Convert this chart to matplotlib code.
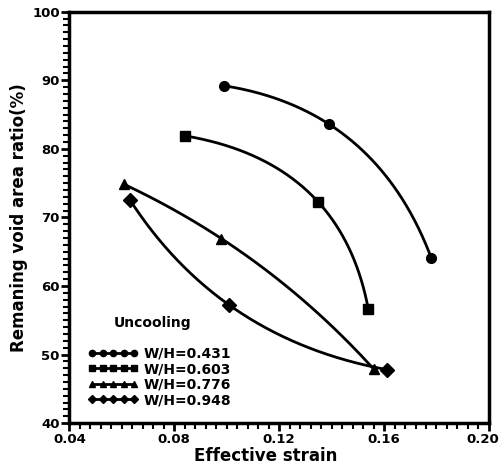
import numpy as np
import matplotlib.pyplot as plt
import matplotlib.transforms as mtransforms
from matplotlib.ticker import MultipleLocator

# Datos
labels = ["W/H=0.431", "W/H=0.603", "W/H=0.776", "W/H=0.948"]
markers = ["o", "s", "^", "D"]
strain = [
    [0.099, 0.139, 0.178],
    [0.084, 0.135, 0.154],
    [0.061, 0.098, 0.156],
    [0.063, 0.101, 0.161],
]
void_ratio = [
    [89.2, 83.6, 64.1],
    [81.9, 72.2, 56.6],
    [74.8, 66.9, 47.9],
    [72.6, 57.2, 47.8],
]
xticks = [0.04, 0.08, 0.12, 0.16, 0.20]
xticklabels = ["0.04", "0.08", "0.12", "0.16", "0.20"]

plt.rcParams["font.family"] = "DejaVu Sans"
plt.rcParams["font.weight"] = "bold"

fig = plt.figure(figsize=(5.03, 4.68), dpi=100)
ax = fig.add_axes([0.138, 0.096, 0.834, 0.879])
ax.set_xlim(0.04, 0.20)
ax.set_ylim(40, 100)


def smooth(x, y, n=200):
    # curva parametrica de segundo grado (parametro = longitud de cuerda)
    xn = (x - 0.04) / 0.16
    yn = (y - 40) / 60
    d = np.hypot(np.diff(xn), np.diff(yn))
    t = np.concatenate([[0], np.cumsum(d)])
    ts = np.linspace(0, t[-1], n)
    cx = np.polyfit(t, x, 2)
    cy = np.polyfit(t, y, 2)
    return np.polyval(cx, ts), np.polyval(cy, ts)


handles = []
for x, y, m, lab in zip(strain, void_ratio, markers, labels):
    x = np.array(x)
    y = np.array(y)
    xs, ys = smooth(x, y)
    ax.plot(xs, ys, color="black", linewidth=2)
    ax.plot(x, y, linestyle="none", marker=m, color="black", markersize=7)
    h, = ax.plot([], [], color="black", linewidth=2, marker=m, markersize=4.5)
    handles.append(h)

ax.set_xticks(xticks)
ax.set_xticklabels(xticklabels)
ax.xaxis.set_minor_locator(MultipleLocator(0.004))
ax.yaxis.set_major_locator(MultipleLocator(10))
ax.yaxis.set_minor_locator(MultipleLocator(1))

ax.tick_params(which="major", direction="out", length=6, width=2, labelsize=9.5, pad=1)
ax.tick_params(which="minor", direction="out", length=4, width=1.5)
for s in ax.spines.values():
    s.set_linewidth(2.5)

# la ultima etiqueta del eje x se corre un poco a la izquierda para que quepa
last = ax.get_xticklabels()[-1]
last.set_transform(last.get_transform() + mtransforms.ScaledTranslation(-6 / 100, 0, fig.dpi_scale_trans))

ax.set_xlabel("Effective strain", fontsize=12, fontweight="bold")
ax.xaxis.set_label_coords(0.469, -0.058)
ax.set_ylabel("Remaning void area ratio(%)", fontsize=12, fontweight="bold", labelpad=3)

ax.text(0.105, 0.233, "Uncooling", transform=ax.transAxes, fontsize=10, fontweight="bold")
leg = ax.legend(handles, labels, loc="upper left", bbox_to_anchor=(0.045, 0.185),
                frameon=False, numpoints=5, handlelength=3.6, handletextpad=0.4,
                labelspacing=0.1, borderpad=0, borderaxespad=0,
                prop={"size": 10, "weight": "bold"})

fig.savefig("out.png", dpi=100)
